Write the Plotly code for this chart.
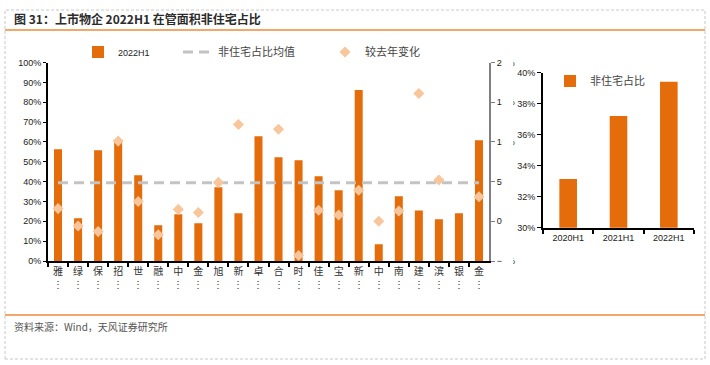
import plotly.graph_objects as go

# ---------------- data ----------------
companies = ["雅生活服务", "绿城服务", "保利物业", "招商积余", "世茂服务", "融创服务",
             "中海物业", "金科服务", "旭辉永升服务", "新城悦服务", "卓越商企服务", "合景悠活",
             "时代邻里", "佳兆业美好", "宝龙商业", "新大正", "中骏商管", "南都物业",
             "建业新生活", "滨江服务", "银城生活服务", "金茂服务"]
tick_labels = ["雅", "绿", "保", "招", "世", "融", "中", "金", "旭", "新", "卓", "合",
               "时", "佳", "宝", "新", "中", "南", "建", "滨", "银", "金"]
share_2022h1 = [0.563, 0.215, 0.558, 0.603, 0.432, 0.180, 0.235, 0.190, 0.371, 0.240,
                0.629, 0.523, 0.508, 0.427, 0.356, 0.861, 0.084, 0.326, 0.255, 0.210,
                0.240, 0.608]
yoy_change = [1.6, -0.6, -1.3, 10.1, 2.5, -1.7, 1.5, 1.1, 4.9, 12.2, None, 11.6,
              -4.3, 1.4, 0.8, 3.9, 0.0, 1.3, 16.1, 5.2, None, 3.1]
avg_share = 0.394

periods = ["2020H1", "2021H1", "2022H1"]
period_share = [0.3314, 0.372, 0.3942]

ORANGE = "#E46C0A"
PEACH = "#F9C59A"
GRAY_DASH = "#C3C3C3"
LATIN = "Liberation Sans, Arial, Noto Sans CJK SC"
CJK = "Noto Sans CJK SC, Liberation Sans"

W, H = 710, 365


def px(x):
    return x / W


def py(y):
    return (H - y) / H


fig = go.Figure()

fig.add_trace(go.Bar(
    x=companies, y=share_2022h1, name="2022H1", marker_color=ORANGE,
    width=0.4, xaxis="x", yaxis="y", legend="legend"))

fig.add_trace(go.Scatter(
    x=companies, y=[avg_share] * len(companies), name="非住宅占比均值",
    mode="lines", line=dict(color=GRAY_DASH, width=3, dash="10px,6px"),
    xaxis="x", yaxis="y", legend="legend2"))

fig.add_trace(go.Scatter(
    x=companies, y=yoy_change, name="较去年变化", mode="markers",
    marker=dict(symbol="diamond", size=8.5, color=PEACH),
    xaxis="x", yaxis="y2", legend="legend3"))

fig.add_trace(go.Bar(
    x=periods, y=period_share, name="非住宅占比", marker_color=ORANGE,
    width=0.35, xaxis="x2", yaxis="y3", legend="legend4"))

axis_font = dict(family=LATIN, size=9, color="#222")

fig.update_layout(
    template="none",
    width=W, height=H,
    margin=dict(l=0, r=0, t=0, b=0, autoexpand=False),
    paper_bgcolor="white", plot_bgcolor="white",
    showlegend=True,
    xaxis=dict(
        domain=[px(48), px(489)], type="category", automargin=False,
        range=[-0.5, len(companies) - 0.5], autorange=False,
        tickmode="array", tickvals=companies,
        ticktext=[t + "<br>⋮" for t in tick_labels],
        tickson="boundaries", ticks="outside", ticklen=4, tickwidth=2,
        tickcolor="black", showline=True, linecolor="black", linewidth=2,
        tickfont=dict(family=CJK, size=10, color="#333"),
        showgrid=False, zeroline=False, anchor="y", tickangle=0),
    yaxis=dict(
        domain=[py(261), py(62.5)], range=[0, 1], dtick=0.1, tickformat=".0%",
        automargin=False,
        ticks="outside", ticklen=3, tickcolor="black", showline=True,
        linecolor="black", linewidth=2, showgrid=False, zeroline=False,
        tickfont=axis_font, anchor="x"),
    yaxis2=dict(
        overlaying="y", side="right", range=[-5, 20], dtick=5, ticksuffix="%",
        automargin=False,
        ticks="outside", ticklen=4, tickcolor="#808080", showline=True,
        linecolor="#808080", linewidth=2, showgrid=False, zeroline=False,
        tickfont=axis_font, anchor="x"),
    xaxis2=dict(
        domain=[px(543), px(694)], type="category", tickson="boundaries",
        range=[-0.5, len(periods) - 0.5], autorange=False,
        automargin=False,
        ticks="outside", ticklen=4, tickwidth=2, tickcolor="black",
        showline=True, linecolor="black", linewidth=2, showgrid=False,
        zeroline=False, tickfont=axis_font, anchor="y3"),
    yaxis3=dict(
        domain=[py(227.7), py(72.7)], range=[0.30, 0.40], dtick=0.02,
        tickformat=".0%", ticks="outside", ticklen=4, tickcolor="black",
        automargin=False,
        showline=True, linecolor="black", linewidth=2, showgrid=False,
        zeroline=False, tickfont=axis_font, anchor="x2"),
    legend=dict(x=px(78), y=py(52), xanchor="left", yanchor="middle",
                orientation="h", bgcolor="rgba(0,0,0,0)",
                font=dict(family=LATIN, size=9, color="#222")),
    legend2=dict(x=px(178), y=py(52), xanchor="left", yanchor="middle",
                 orientation="h", bgcolor="rgba(0,0,0,0)",
                 font=dict(family=CJK, size=11, color="#444")),
    legend3=dict(x=px(325), y=py(52), xanchor="left", yanchor="middle",
                 orientation="h", bgcolor="rgba(0,0,0,0)",
                 font=dict(family=CJK, size=11, color="#444")),
    legend4=dict(x=px(550), y=py(81), xanchor="left", yanchor="middle",
                 orientation="h", bgcolor="rgba(0,0,0,0)",
                 font=dict(family=CJK, size=11, color="#444")),
    shapes=[
        dict(type="rect", xref="paper", yref="paper", x0=px(5), x1=px(705),
             y0=py(359), y1=py(10), line=dict(color="#C8C8C8", width=1, dash="3px,2px"),
             fillcolor="rgba(0,0,0,0)", layer="below"),
        dict(type="line", xref="paper", yref="paper", x0=px(5), x1=px(705),
             y0=py(30), y1=py(30), line=dict(color="#EE8A3A", width=1.5)),
        dict(type="line", xref="paper", yref="paper", x0=px(5), x1=px(705),
             y0=py(315), y1=py(315), line=dict(color="#EE8A3A", width=1.5)),
        dict(type="rect", xref="paper", yref="paper", x0=px(502), x1=px(513),
             y0=py(272), y1=py(55), fillcolor="white", line=dict(width=0),
             layer="above"),
    ],
    annotations=[
        dict(text="<b>图 31：上市物企 2022H1 在管面积非住宅占比</b>", xref="paper",
             yref="paper", x=px(12), y=py(18), xanchor="left", yanchor="middle",
             showarrow=False, font=dict(family=CJK, size=12, color="#2b2b2b")),
        dict(text="资料来源：Wind，天风证券研究所", xref="paper", yref="paper",
             x=px(12), y=py(326), xanchor="left", yanchor="middle",
             showarrow=False, font=dict(family=CJK, size=10, color="#555")),
    ],
)

fig.write_html("out.html", config={"displayModeBar": False},
               post_script="document.body.style.margin='0';document.body.style.overflow='hidden';")
